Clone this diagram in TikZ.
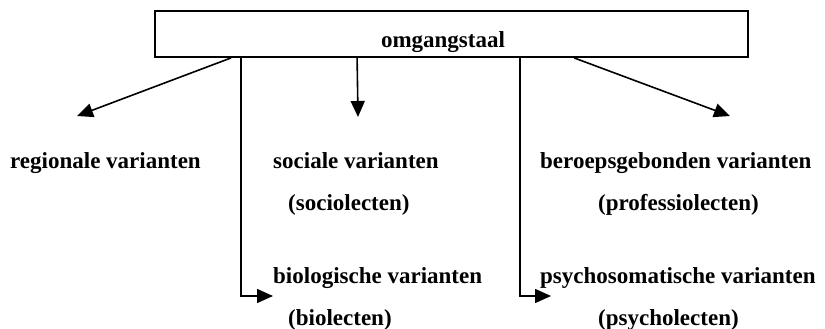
\documentclass[tikz,border=0pt]{standalone}
\usepackage{fontspec}
\setmainfont{Liberation Serif}
\usetikzlibrary{arrows.meta,calc}
\begin{document}
\begin{tikzpicture}[x=1pt,y=-1pt,
  lbl/.style={anchor=base west, inner sep=0pt, font=\fontsize{23}{26}\selectfont\bfseries},
  conn/.style={line width=1.6pt},
  arr/.style={conn, -{Triangle[length=16pt,width=14pt]}}]
\useasboundingbox (0,0) rectangle (825,329);
\node[draw, line width=1.8pt, minimum width=593pt, minimum height=46pt, inner sep=0pt] (top) at (451.5,34) {};
\node[lbl, anchor=base] (omg) at (443,48) {omgangstaal};
% row texts
\node[lbl] (reg) at (10,168) {regionale varianten};
\node[lbl] (soc) at (273,168) {sociale varianten};
\node[lbl] (soc2) at (288,210) {(sociolecten)};
\node[lbl] (ber) at (540,168) {beroepsgebonden varianten};
\node[lbl] (ber2) at (598,210) {(professiolecten)};
\node[lbl] (bio) at (273,283) {biologische varianten};
\node[lbl] (bio2) at (288,325) {(biolecten)};
\node[lbl] (psy) at (540,283) {psychosomatische varianten};
\node[lbl] (psy2) at (598,325) {(psycholecten)};
% arrow end points
\coordinate (t1) at (77,116);
\coordinate (t2) at (358,117);
\coordinate (t3) at (730,116);
\coordinate (t4) at (273,296);
\coordinate (t5) at (551,296);
\draw[arr] ($(top.south west)+(77,0)$) -- (t1);
\draw[arr] ($(top.south west)+(203,0)$) -- (t2);
\draw[arr] ($(top.south west)+(420,0)$) -- (t3);
\draw[arr] ($(top.south west)+(87,0)$) |- (t4);
\draw[arr] ($(top.south west)+(366,0)$) |- (t5);
\end{tikzpicture}
\end{document}
